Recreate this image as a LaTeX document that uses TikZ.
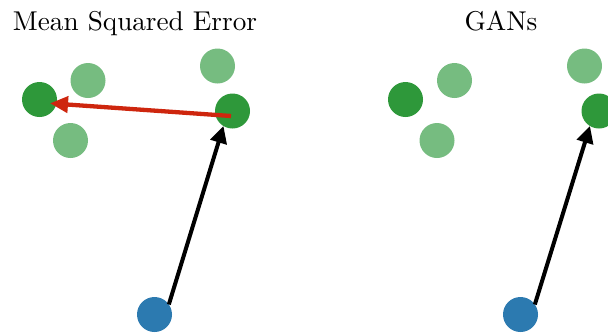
\documentclass[tikz,border=0pt]{standalone}
\usepackage{fontspec}
\newfontfamily\titlefont{lmroman10-regular.otf}
\usetikzlibrary{arrows.meta}

\definecolor{ptdark}{RGB}{46,152,58}
\definecolor{ptlight}{RGB}{118,188,128}
\definecolor{ptsrc}{RGB}{44,122,176}
\definecolor{mseRed}{RGB}{206,38,14}

\tikzset{
  dot/.style={circle, inner sep=0pt, outer sep=0pt, minimum size=35pt},
  target/.style={dot, fill=ptdark},
  sample/.style={dot, fill=ptlight},
  source/.style={dot, fill=ptsrc},
  genarrow/.style={line width=4pt, black, -{Triangle[length=17pt,width=16.5pt]}},
  errarrow/.style={line width=4.3pt, mseRed, -{Triangle[length=18pt,width=16pt]}},
  title/.style={font=\titlefont\fontsize{27.2}{31}\selectfont, anchor=base}
}

\begin{document}
\begin{tikzpicture}[x=1pt, y=-1pt]
  \useasboundingbox (0,0) rectangle (608,333);
  \clip (0,0) rectangle (608,333);

  % Left panel: mean squared error pulls towards the average
  \node[title] (t1) at (135,30) {Mean Squared Error};
  \node[target] (a0) at (39.5,99.5) {};
  \node[sample] (a1) at (88,80.5) {};
  \node[sample] (a2) at (70.5,140.5) {};
  \node[sample] (a3) at (217.5,66) {};
  \node[target] (a4) at (232.5,111) {};
  \node[source] (as) at (154.5,314.5) {};
  \draw[genarrow] (as.35) -- (a4.239);
  \draw[errarrow] ([xshift=-1.5pt,yshift=-5pt]a4.center) -- ([xshift=10.5pt,yshift=-3.8pt]a0.center);

  % Right panel: GANs
  \node[title] (t2) at (501,30) {GANs};
  \node[target] (b0) at (405.5,99.5) {};
  \node[sample] (b1) at (454.5,80.5) {};
  \node[sample] (b2) at (437,140.5) {};
  \node[sample] (b3) at (584.5,66) {};
  \node[target] (b4) at (599,111) {};
  \node[source] (bs) at (520.5,314.5) {};
  \draw[genarrow] (bs.35) -- (b4.239);
\end{tikzpicture}
\end{document}
